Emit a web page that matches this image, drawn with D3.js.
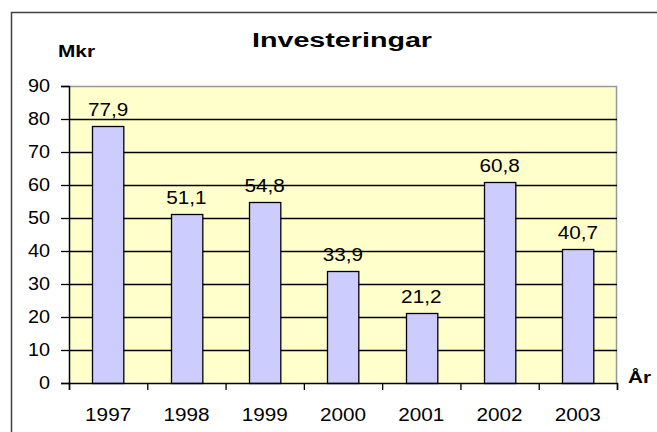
<!DOCTYPE html>
<html>
<head>
<meta charset="utf-8">
<script src="https://cdn.jsdelivr.net/npm/d3@7"></script>
<style>
  body { margin: 0; background: #fff; }
  svg { display: block; }
  text { font-family: "Liberation Sans", Arial, sans-serif; }
</style>
</head>
<body>
<div id="chart"></div>
<script>
// data
var years = ["1997", "1998", "1999", "2000", "2001", "2002", "2003"];
var values = [77.9, 51.1, 54.8, 33.9, 21.2, 60.8, 40.7];
var yTicks = [0, 10, 20, 30, 40, 50, 60, 70, 80, 90];

var W = 657, H = 432;
var margin = { top: 86, right: 40, bottom: 49, left: 69 };
var width = W - margin.left - margin.right;   // 548
var height = H - margin.top - margin.bottom;  // 297

// the original's pixel font is wider than Arial, so stretch the text a bit
function stretch(sel, f) {
  sel.each(function () {
    var w = this.getComputedTextLength();
    d3.select(this).attr("textLength", w * f).attr("lengthAdjust", "spacingAndGlyphs");
  });
}

var svg = d3.select("#chart").append("svg")
  .attr("width", W)
  .attr("height", H);

// outer frame (runs off right and bottom edge)
svg.append("rect")
  .attr("x", 11.5).attr("y", 12.5)
  .attr("width", 700).attr("height", 500)
  .attr("fill", "none")
  .attr("stroke", "#404040")
  .attr("stroke-width", 1.5);

var g = svg.append("g")
  .attr("transform", "translate(" + margin.left + "," + margin.top + ")");

var x = d3.scaleBand()
  .domain(years)
  .range([0, width])
  .paddingInner(0.6)
  .paddingOuter(0.3);

var y = d3.scaleLinear()
  .domain([0, 90])
  .range([height, 0]);

// plot background
g.append("rect")
  .attr("width", width).attr("height", height)
  .attr("fill", "#ffffcc");

// grey border top/right
g.append("path")
  .attr("d", "M0,0.5H" + (width - 0.5) + "V" + height)
  .attr("fill", "none")
  .attr("stroke", "#999")
  .attr("stroke-width", 1.5);

// gridlines
g.selectAll(".grid")
  .data(yTicks.filter(function (d) { return d > 0 && d < 90; }))
  .enter().append("line")
  .attr("x1", 0).attr("x2", width)
  .attr("y1", function (d) { return Math.round(y(d)) + 0.5; })
  .attr("y2", function (d) { return Math.round(y(d)) + 0.5; })
  .attr("stroke", "#000")
  .attr("stroke-width", 1.3);

// bars
g.selectAll(".bar")
  .data(values)
  .enter().append("rect")
  .attr("x", function (d, i) { return Math.round(x(years[i])) + 0.5; })
  .attr("y", function (d) { return Math.round(y(d)) + 0.5; })
  .attr("width", x.bandwidth())
  .attr("height", function (d) { return height - Math.round(y(d)); })
  .attr("fill", "#ccccff")
  .attr("stroke", "#000")
  .attr("stroke-width", 1.3);

// value labels
g.selectAll(".lbl")
  .data(values)
  .enter().append("text")
  .attr("x", function (d, i) { return x(years[i]) + x.bandwidth() / 2; })
  .attr("y", function (d) { return y(d) - 10; })
  .attr("text-anchor", "middle")
  .attr("font-size", 18)
  .attr("fill", "#000")
  .text(function (d) { return String(d).replace(".", ","); })
  .call(stretch, 1.15);

// Y axis
var yAxis = g.append("g")
  .call(d3.axisLeft(y).tickValues(yTicks).tickSize(8).tickPadding(11));
yAxis.select(".domain").attr("stroke", "#000").attr("stroke-width", 1.5);
yAxis.selectAll(".tick line").attr("stroke", "#000").attr("stroke-width", 1.3);
yAxis.selectAll(".tick text")
  .attr("font-size", 18)
  .attr("font-family", "Liberation Sans, Arial, sans-serif")
  .attr("fill", "#000")
  .call(stretch, 1.1);

// X axis: ticks at category boundaries
var xb = d3.scaleLinear().domain([0, years.length]).range([0, width]);
var xAxis = g.append("g")
  .attr("transform", "translate(0," + height + ")")
  .call(d3.axisBottom(xb).ticks(years.length).tickSize(7).tickFormat(""));
xAxis.select(".domain").attr("stroke", "#000").attr("stroke-width", 1.5);
xAxis.selectAll(".tick line").attr("stroke", "#000").attr("stroke-width", 1.3);

// year labels
g.selectAll(".yr")
  .data(years)
  .enter().append("text")
  .attr("x", function (d) { return x(d) + x.bandwidth() / 2; })
  .attr("y", height + 38)
  .attr("text-anchor", "middle")
  .attr("font-size", 18)
  .attr("fill", "#000")
  .text(function (d) { return d; })
  .call(stretch, 1.15);

// title
svg.append("text")
  .attr("x", 342).attr("y", 47)
  .attr("text-anchor", "middle")
  .attr("font-family", "DejaVu Sans, Verdana, sans-serif")
  .attr("font-weight", "bold")
  .attr("font-size", 20)
  .attr("textLength", 180)
  .attr("lengthAdjust", "spacingAndGlyphs")
  .text("Investeringar");

// axis titles
svg.append("text")
  .attr("x", 58).attr("y", 57)
  .attr("font-family", "DejaVu Sans, Verdana, sans-serif")
  .attr("font-weight", "bold")
  .attr("font-size", 17)
  .attr("textLength", 37)
  .attr("lengthAdjust", "spacingAndGlyphs")
  .text("Mkr");

svg.append("text")
  .attr("x", 628).attr("y", 383)
  .attr("font-family", "DejaVu Sans, Verdana, sans-serif")
  .attr("font-weight", "bold")
  .attr("font-size", 17)
  .attr("textLength", 23)
  .attr("lengthAdjust", "spacingAndGlyphs")
  .text("År");
</script>
</body>
</html>
